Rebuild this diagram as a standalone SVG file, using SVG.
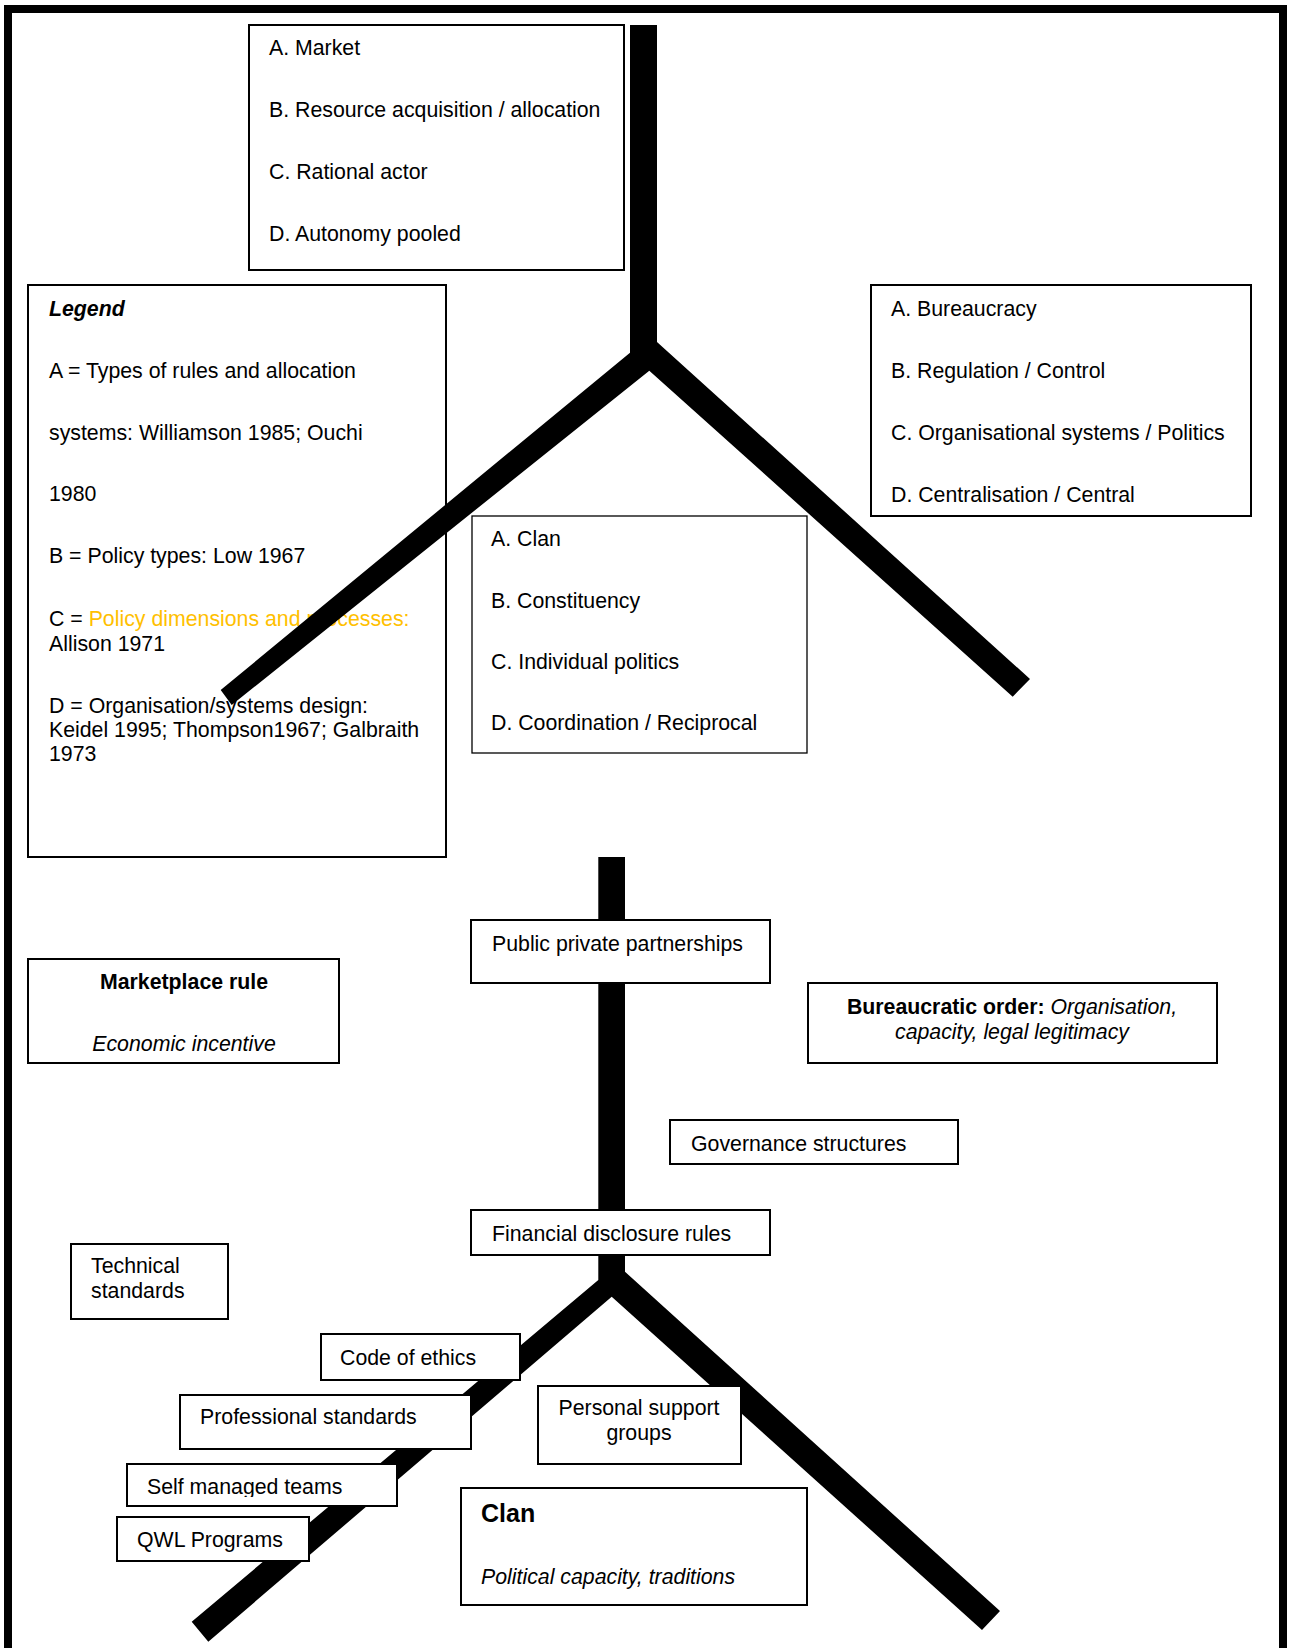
<svg xmlns="http://www.w3.org/2000/svg" width="1290" height="1648" viewBox="0 0 1290 1648">
  <style>
    text { font-family: "Liberation Sans", Arial, sans-serif; font-size: 21.3px; fill: #000; }
    .box { fill: #fff; stroke: #000; stroke-width: 2; }
    .thin { fill: #fff; stroke: #000; stroke-width: 1.3; }
    .bar { fill: #000; stroke: none; }
    .b { font-weight: bold; }
    .i { font-style: italic; }
    .mid { text-anchor: middle; }
    .gold { fill: #FFC000; }
  </style>
  <defs>
    <clipPath id="clip-smt"><rect x="127" y="1463" width="271" height="34"/></clipPath>
  </defs>

  <rect width="1290" height="1648" fill="#fff"/>

  <!-- outer frame, open at the bottom edge of the page -->
  <path d="M8 1660 V9 H1283 V1660" fill="none" stroke="#000" stroke-width="8"/>

  <!-- legend sits underneath the upper fork -->
  <g id="legend">
    <rect class="box" x="28" y="285" width="418" height="572"/>
    <text x="49" y="316" class="b i">Legend</text>
    <text x="49" y="378">A = Types of rules and allocation</text>
    <text x="49" y="440">systems: Williamson 1985; Ouchi</text>
    <text x="49" y="501">1980</text>
    <text x="49" y="563">B = Policy types: Low 1967</text>
    <text x="49" y="626">C = <tspan class="gold">Policy dimensions and processes:</tspan></text>
    <text x="49" y="651">Allison 1971</text>
    <text x="49" y="713">D = Organisation/systems design:</text>
    <text x="49" y="737">Keidel 1995; Thompson1967; Galbraith</text>
    <text x="49" y="761">1973</text>
  </g>

  <!-- the two forked trunks -->
  <g id="connectors">
    <polygon class="bar" points="630,25 657,25 657,342 1030,679 1012.7,696.7 649.3,370.7 231.7,705 220.7,690 630,352.7"/>
    <polygon class="bar" points="598.3,857 625,857 625,1271.7 1000,1611 982,1630 611.7,1296.7 208.3,1641.7 191.7,1621.7 598.3,1280"/>
  </g>

  <g id="market">
    <rect class="box" x="249" y="25" width="375" height="245"/>
    <text x="269" y="55">A. Market</text>
    <text x="269" y="117">B. Resource acquisition / allocation</text>
    <text x="269" y="179">C. Rational actor</text>
    <text x="269" y="241">D. Autonomy pooled</text>
  </g>

  <g id="bureaucracy">
    <rect class="box" x="871" y="285" width="380" height="231"/>
    <text x="891" y="316">A. Bureaucracy</text>
    <text x="891" y="378">B. Regulation / Control</text>
    <text x="891" y="440">C. Organisational systems / Politics</text>
    <text x="891" y="502">D. Centralisation / Central</text>
  </g>

  <g id="clan-types">
    <rect class="thin" x="472" y="516" width="335" height="237"/>
    <text x="491" y="546">A. Clan</text>
    <text x="491" y="608">B. Constituency</text>
    <text x="491" y="669">C. Individual politics</text>
    <text x="491" y="730">D. Coordination / Reciprocal</text>
  </g>

  <g id="ppp">
    <rect class="box" x="471" y="920" width="299" height="63"/>
    <text x="492" y="951">Public private partnerships</text>
  </g>

  <g id="marketplace">
    <rect class="box" x="28" y="959" width="311" height="104"/>
    <text x="184" y="989" class="b mid">Marketplace rule</text>
    <text x="184" y="1051" class="i mid">Economic incentive</text>
  </g>

  <g id="bureaucratic-order">
    <rect class="box" x="808" y="983" width="409" height="80"/>
    <text x="1012" y="1014" class="mid"><tspan class="b">Bureaucratic order:</tspan><tspan class="i"> Organisation,</tspan></text>
    <text x="1012" y="1039" class="i mid">capacity, legal legitimacy</text>
  </g>

  <g id="governance">
    <rect class="box" x="670" y="1120" width="288" height="44"/>
    <text x="691" y="1151">Governance structures</text>
  </g>

  <g id="financial">
    <rect class="box" x="471" y="1210" width="299" height="45"/>
    <text x="492" y="1241">Financial disclosure rules</text>
  </g>

  <g id="technical">
    <rect class="box" x="71" y="1244" width="157" height="75"/>
    <text x="91" y="1273">Technical</text>
    <text x="91" y="1298">standards</text>
  </g>

  <g id="ethics">
    <rect class="box" x="321" y="1334" width="199" height="46"/>
    <text x="340" y="1365">Code of ethics</text>
  </g>

  <g id="professional">
    <rect class="box" x="180" y="1395" width="291" height="54"/>
    <text x="200" y="1424">Professional standards</text>
  </g>

  <g id="support">
    <rect class="box" x="538" y="1386" width="203" height="78"/>
    <text x="639" y="1415" class="mid">Personal support</text>
    <text x="639" y="1440" class="mid">groups</text>
  </g>

  <g id="teams">
    <rect class="box" x="127" y="1464" width="270" height="42"/>
    <text x="147" y="1494" clip-path="url(#clip-smt)">Self managed teams</text>
  </g>

  <g id="qwl">
    <rect class="box" x="117" y="1517" width="192" height="44"/>
    <text x="137" y="1547">QWL Programs</text>
  </g>

  <g id="clan">
    <rect class="box" x="461" y="1488" width="346" height="117"/>
    <text x="481" y="1522" class="b" style="font-size:25px">Clan</text>
    <text x="481" y="1584" class="i">Political capacity, traditions</text>
  </g>
</svg>
